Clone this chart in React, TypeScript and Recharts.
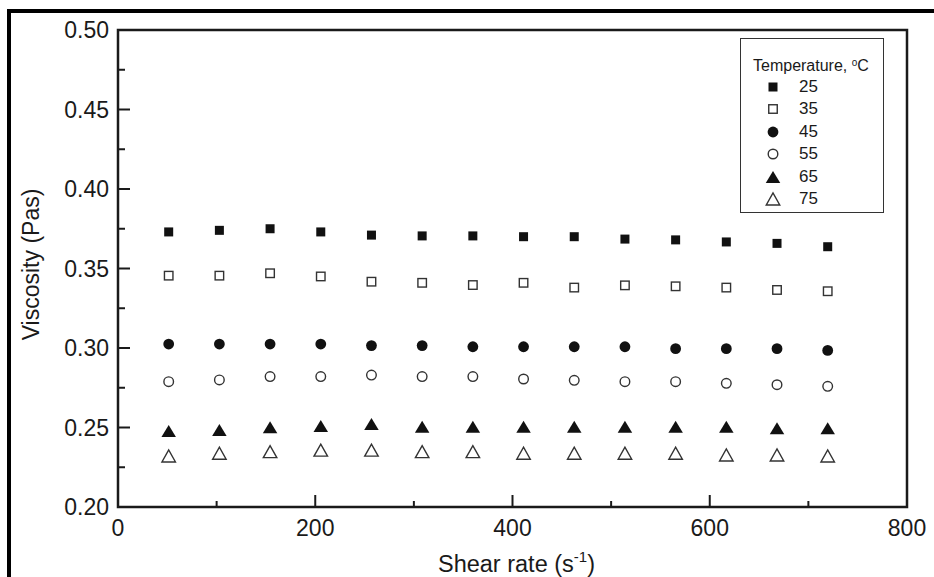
import React from "react";
import {
  ScatterChart, Scatter, XAxis, YAxis, ReferenceArea, Label,
} from "recharts";

// shear rate steps (1/s)
const shearRate = [51.4, 102.8, 154.2, 205.6, 257, 308.4, 359.8, 411.2, 462.6, 514, 565.4, 616.8, 668.2, 719.6];

// viscosity (Pa s) per temperature
const visc25 = [0.373, 0.374, 0.375, 0.373, 0.371, 0.3705, 0.3705, 0.37, 0.37, 0.3685, 0.368, 0.3667, 0.3658, 0.3637];
const visc35 = [0.3455, 0.3455, 0.347, 0.345, 0.3417, 0.341, 0.3396, 0.341, 0.338, 0.3394, 0.3388, 0.338, 0.3365, 0.3357];
const visc45 = [0.3025, 0.3025, 0.3025, 0.3025, 0.3015, 0.3015, 0.3008, 0.3008, 0.3008, 0.3008, 0.2996, 0.2996, 0.2996, 0.2985];
const visc55 = [0.2788, 0.2799, 0.282, 0.282, 0.283, 0.282, 0.282, 0.2805, 0.2797, 0.2788, 0.2788, 0.2778, 0.2769, 0.2759];
const visc65 = [0.2478, 0.2484, 0.2501, 0.2509, 0.2522, 0.2505, 0.2505, 0.2505, 0.2505, 0.2505, 0.2505, 0.2505, 0.2495, 0.2495];
const visc75 = [0.2321, 0.2338, 0.2348, 0.2358, 0.2358, 0.2348, 0.2348, 0.2338, 0.2338, 0.2338, 0.2338, 0.2327, 0.2327, 0.2321];

const temperatures = ["25", "35", "45", "55", "65", "75"];
const xTicks = [0, 100, 200, 300, 400, 500, 600, 700, 800];
const yTicks = [0.2, 0.225, 0.25, 0.275, 0.3, 0.325, 0.35, 0.375, 0.4, 0.425, 0.45, 0.475, 0.5];

const FONT = "'Liberation Sans', Arial, sans-serif";
const INK = "#1a1a1a";

type Kind = "square" | "circle" | "triangle";

const series: { name: string; values: number[]; kind: Kind; filled: boolean }[] = [
  { name: temperatures[0], values: visc25, kind: "square", filled: true },
  { name: temperatures[1], values: visc35, kind: "square", filled: false },
  { name: temperatures[2], values: visc45, kind: "circle", filled: true },
  { name: temperatures[3], values: visc55, kind: "circle", filled: false },
  { name: temperatures[4], values: visc65, kind: "triangle", filled: true },
  { name: temperatures[5], values: visc75, kind: "triangle", filled: false },
];

function Marker({ cx, cy, kind, filled }: { cx: number; cy: number; kind: Kind; filled: boolean }) {
  const fill = filled ? "#111" : "#fff";
  const stroke = filled ? "#111" : "#333";
  const sw = filled ? 0 : 1.4;
  if (kind === "square") {
    const s = filled ? 9 : 8.5;
    return <rect x={cx - s / 2} y={cy - s / 2} width={s} height={s} fill={fill} stroke={stroke} strokeWidth={sw} />;
  }
  if (kind === "circle") {
    const r = filled ? 5.4 : 4.8;
    return <circle cx={cx} cy={cy} r={r} fill={fill} stroke={stroke} strokeWidth={sw} />;
  }
  const w = filled ? 14.5 : 13.5;
  const h = 12;
  const pts = `${cx - w / 2},${cy + h / 2} ${cx + w / 2},${cy + h / 2} ${cx},${cy - h / 2}`;
  return <polygon points={pts} fill={fill} stroke={stroke} strokeWidth={sw} strokeLinejoin="miter" />;
}

const XTick = (props: any) => {
  const { x, y, payload } = props;
  const v = payload.value;
  const major = v % 200 === 0;
  return (
    <g>
      <line x1={x} x2={x} y1={y} y2={y - (major ? 12 : 6)} stroke={INK} strokeWidth={2} />
      {major && (
        <text x={x} y={y + 21} textAnchor="middle" dominantBaseline="central" fontSize={23} fontFamily={FONT} fill={INK}>
          {v}
        </text>
      )}
    </g>
  );
};

const YTick = (props: any) => {
  const { x, y, payload } = props;
  const v = payload.value;
  const major = Math.abs(v * 20 - Math.round(v * 20)) < 1e-6;
  return (
    <g>
      <line x1={x} x2={x + (major ? 12 : 7)} y1={y} y2={y} stroke={INK} strokeWidth={2} />
      {major && (
        <text x={x - 9} y={y} textAnchor="end" dominantBaseline="central" fontSize={23} fontFamily={FONT} fill={INK}>
          {v.toFixed(2)}
        </text>
      )}
    </g>
  );
};

// boxed legend in the upper right of the plot
const TempLegend = () => (
  <div
    style={{
      position: "absolute",
      left: 740,
      top: 38,
      width: 144,
      height: 175,
      border: "1.5px solid #333",
      background: "#fff",
      fontFamily: FONT,
      color: INK,
      boxSizing: "border-box",
    }}
  >
    <div style={{ position: "absolute", left: 12, top: 15, fontSize: 16, whiteSpace: "nowrap", lineHeight: "18px" }}>
      Temperature, <sup style={{ fontSize: 10, verticalAlign: "5px" }}>o</sup>C
    </div>
    {series.map((s, i) => (
      <div
        key={s.name}
        style={{ position: "absolute", left: 0, top: 37 + i * 22.4, height: 22, width: 140, display: "flex", alignItems: "center" }}
      >
        <svg width={58} height={22} style={{ flex: "none" }}>
          <Marker cx={32} cy={11} kind={s.kind} filled={s.filled} />
        </svg>
        <span style={{ fontSize: 17 }}>{s.name}</span>
      </div>
    ))}
  </div>
);

export default function App() {
  return (
    <div style={{ position: "absolute", left: 0, top: 0, width: 934, height: 577, background: "#fff", overflow: "hidden" }}>
      {/* outer figure frame */}
      <div
        style={{
          position: "absolute", left: 7, top: 9, width: 940, height: 580,
          borderTop: "4px solid #000", borderLeft: "4px solid #000",
        }}
      />
      <ScatterChart width={934} height={577} margin={{ top: 30, right: 27, bottom: 0, left: 0 }} style={{ position: "absolute", left: 0, top: 0 }}>
        <XAxis
          type="number"
          dataKey="x"
          domain={[0, 800]}
          ticks={xTicks}
          tick={<XTick />}
          tickLine={false}
          tickSize={0}
          tickMargin={0}
          axisLine={false}
          height={70}
          interval={0}
        >
          <Label
            content={(p: any) => {
              const vb = p.viewBox;
              return (
                <text x={vb.x + vb.width / 2 + 4} y={vb.y + 57} textAnchor="middle" dominantBaseline="central" fontSize={23.5} fontFamily={FONT} fill={INK}>
                  Shear rate (s
                  <tspan fontSize={15} dy={-8}>-1</tspan>
                  <tspan dy={8}>)</tspan>
                </text>
              );
            }}
          />
        </XAxis>
        <YAxis
          type="number"
          dataKey="y"
          domain={[0.2, 0.5]}
          ticks={yTicks}
          tick={<YTick />}
          tickLine={false}
          tickSize={0}
          tickMargin={0}
          axisLine={false}
          width={118}
          interval={0}
          allowDataOverflow
        >
          <Label
            content={(p: any) => {
              const vb = p.viewBox;
              const cx = vb.x + 31;
              const cy = vb.y + vb.height / 2 - 4;
              return (
                <text x={cx} y={cy} transform={`rotate(-90 ${cx} ${cy})`} textAnchor="middle" dominantBaseline="central" fontSize={23} fontFamily={FONT} fill={INK}>
                  Viscosity (Pas)
                </text>
              );
            }}
          />
        </YAxis>
        <ReferenceArea x1={0} x2={800} y1={0.2} y2={0.5} fill="none" stroke={INK} strokeWidth={2.5} ifOverflow="visible" />
        {series.map((s) => (
          <Scatter
            key={s.name}
            name={s.name}
            data={shearRate.map((x, i) => ({ x, y: s.values[i] }))}
            isAnimationActive={false}
            shape={(p: any) => <Marker cx={p.cx} cy={p.cy} kind={s.kind} filled={s.filled} />}
          />
        ))}
      </ScatterChart>
      <TempLegend />
    </div>
  );
}
